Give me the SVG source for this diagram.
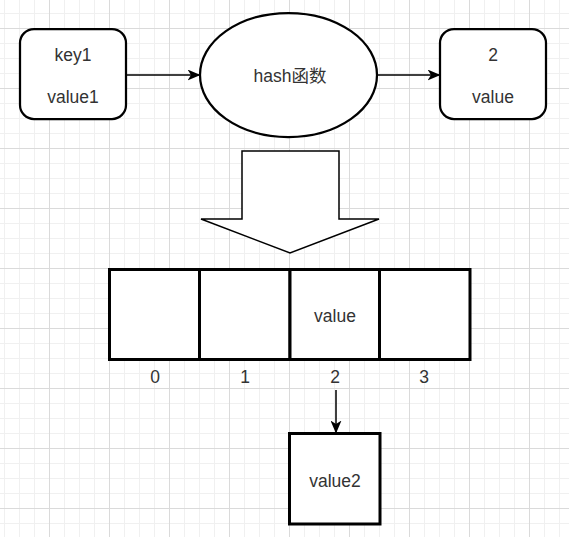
<svg xmlns="http://www.w3.org/2000/svg" width="569" height="537" viewBox="0 0 569 537">
  <defs>
    <pattern id="grid" patternUnits="userSpaceOnUse" x="4" y="13" width="60" height="60">
      <path d="M0.5 0V60M15.5 0V60M30.5 0V60M0 0.5H60M0 30.5H60M0 45.5H60" stroke="#f0f0f0" stroke-width="1" fill="none"/>
      <path d="M45.5 0V60M0 15.5H60" stroke="#dadada" stroke-width="1" fill="none"/>
    </pattern>
    <marker id="arrow" viewBox="0 0 13 11" refX="12.5" refY="5.5" markerWidth="13" markerHeight="11" markerUnits="userSpaceOnUse" orient="auto">
      <path d="M0 0L13 5.5L0 11L3.5 5.5Z" fill="#000"/>
    </marker>
  </defs>
  <style>
    .node { fill: #fff; stroke: #000; }
    .thin { stroke-width: 2.25; }
    .thick { stroke-width: 3; }
    .lbl { font-family: "Liberation Sans", "Noto Sans CJK SC", sans-serif; font-size: 17.5px; fill: #333; text-anchor: middle; dominant-baseline: central; }
    .conn { stroke: #000; stroke-width: 1.5; fill: none; marker-end: url(#arrow); }
  </style>
  <rect width="569" height="537" fill="#fff"/>
  <rect width="569" height="537" fill="url(#grid)"/>

  <g id="connectors">
    <path class="conn" d="M126 75H200"/>
    <path class="conn" d="M377 75H440"/>
    <path class="conn" d="M336 390V433"/>
  </g>

  <g id="node-key1">
    <rect class="node thin" x="20" y="29" width="106" height="90" rx="14"/>
    <text class="lbl" x="73" y="55">key1</text>
    <text class="lbl" x="73" y="97">value1</text>
  </g>

  <g id="node-hash">
    <ellipse class="node thin" cx="288.5" cy="75" rx="88.5" ry="62"/>
    <text class="lbl" x="290" y="76">hash函数</text>
  </g>

  <g id="node-2">
    <rect class="node thin" x="440" y="29" width="106" height="90" rx="14"/>
    <text class="lbl" x="493" y="55">2</text>
    <text class="lbl" x="493" y="97">value</text>
  </g>

  <g id="node-bigarrow">
    <path d="M242 151H339V219H379L290 253L201 219H242Z" fill="#fff" stroke="#000" stroke-width="1.5" stroke-linejoin="miter"/>
  </g>

  <g id="node-array">
    <rect class="node thick" x="109.5" y="269.5" width="90" height="90"/>
    <rect class="node thick" x="199.5" y="269.5" width="90.5" height="90"/>
    <rect class="node thick" x="290" y="269.5" width="89.5" height="90"/>
    <text class="lbl" x="335" y="316">value</text>
    <rect class="node thick" x="379.5" y="269.5" width="90.5" height="90"/>
  </g>

  <g id="labels-index">
    <text class="lbl" x="155" y="377">0</text>
    <text class="lbl" x="245" y="377">1</text>
    <text class="lbl" x="335" y="377">2</text>
    <text class="lbl" x="424" y="377">3</text>
  </g>

  <g id="node-value2">
    <rect class="node thick" x="289.5" y="433.5" width="90.5" height="90.5"/>
    <text class="lbl" x="335" y="481">value2</text>
  </g>
</svg>
